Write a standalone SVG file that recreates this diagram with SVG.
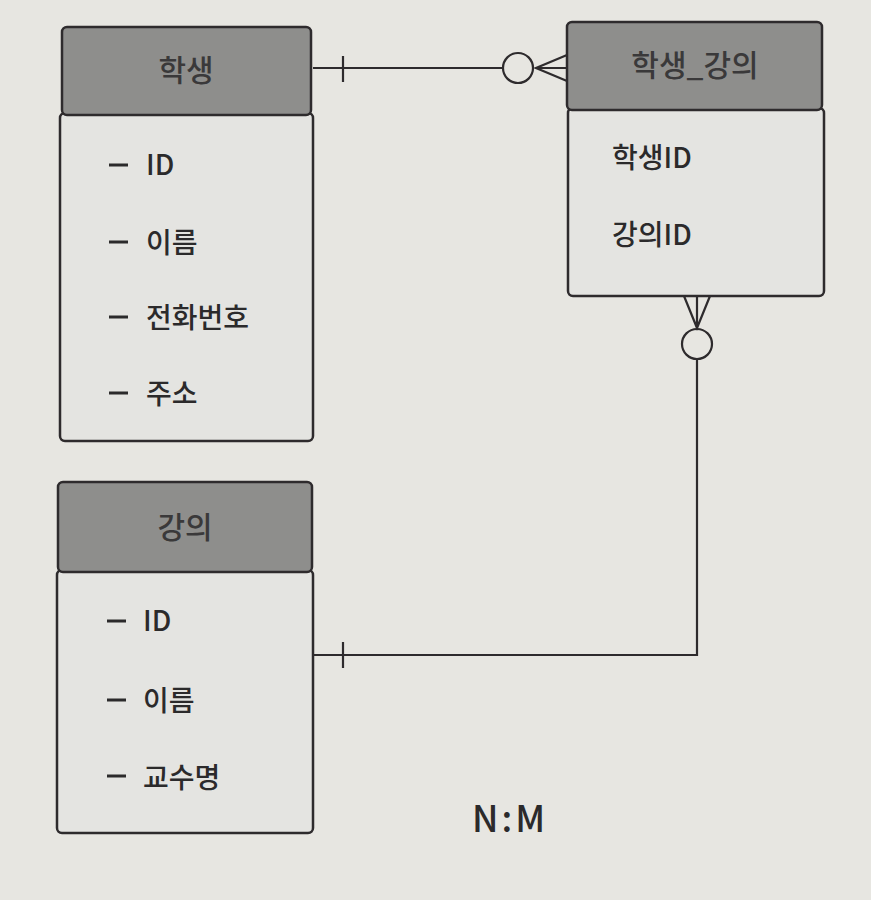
<svg xmlns="http://www.w3.org/2000/svg" width="871" height="900" viewBox="0 0 871 900">
<style>
.hdr{fill:#8e8e8c;stroke:#2e2b2d;stroke-width:2.5}
.body{fill:#e4e4e1;stroke:#2e2b2d;stroke-width:2.5}
.t{font-family:"Noto Sans CJK KR","Noto Sans",sans-serif;font-size:28px;font-weight:500;fill:#2b2a2b}
.ht{font-family:"Noto Sans CJK KR","Noto Sans",sans-serif;font-size:30px;font-weight:500;fill:#3a393a;text-anchor:middle}
.ln{fill:none;stroke:#2e2b2d;stroke-width:2.2}
.d{stroke:#2b2a2b;stroke-width:3}
</style>
<rect width="871" height="900" fill="#e7e6e1"/>
<g id="student">
<rect class="body" x="60" y="113" width="253" height="328" rx="5"/>
<rect class="hdr" x="62" y="27" width="249" height="88" rx="5"/>
<text class="ht" x="186" y="81">학생</text>
<path class="d" d="M109 165 H128 M109 242 H128 M109 317 H128 M109 393 H128"/>
<text class="t" x="146" y="175">ID</text>
<text class="t" x="146" y="253">이름</text>
<text class="t" x="146" y="328">전화번호</text>
<text class="t" x="146" y="404">주소</text>
</g>
<g id="student_lecture">
<rect class="body" x="568" y="108" width="256" height="188" rx="5"/>
<rect class="hdr" x="567" y="22" width="255" height="88" rx="5"/>
<text class="ht" x="695" y="76">학생_강의</text>
<text class="t" x="612" y="168">학생ID</text>
<text class="t" x="612" y="245">강의ID</text>
</g>
<g id="lecture">
<rect class="body" x="57" y="570" width="256" height="263" rx="5"/>
<rect class="hdr" x="58" y="482" width="254" height="90" rx="5"/>
<text class="ht" x="185" y="538">강의</text>
<path class="d" d="M107 621 H126 M107 700 H126 M107 776 H126"/>
<text class="t" x="143" y="631">ID</text>
<text class="t" x="143" y="711">이름</text>
<text class="t" x="143" y="788">교수명</text>
</g>
<g id="connectors">
<path class="ln" d="M313 68 H503"/>
<path class="ln" d="M343 56 V82"/>
<circle class="ln" cx="518" cy="68" r="15"/>
<path class="ln" d="M567 55 L536 68 L567 81 M536 68 H567"/>
<path class="ln" d="M684 296 L697 328 L710 296 M697 296 V328"/>
<circle class="ln" cx="697" cy="344" r="15"/>
<path class="ln" d="M697 359 V655 H313"/>
<path class="ln" d="M343 642 V668"/>
</g>
<text class="t" x="472" y="832" style="font-size:36px;letter-spacing:3px">N:M</text>
</svg>
